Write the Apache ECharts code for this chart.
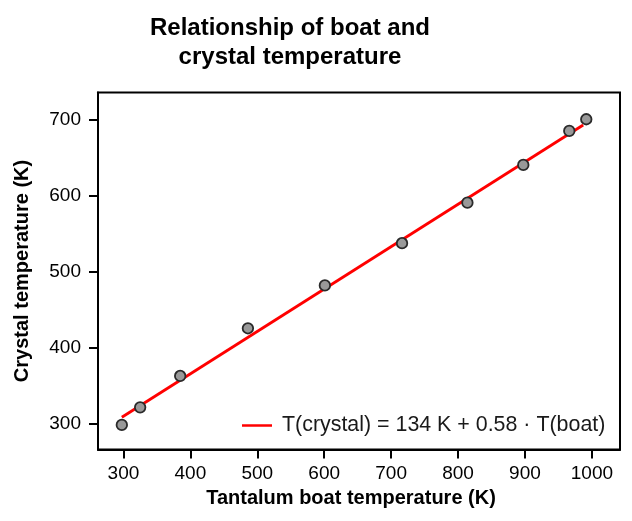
<!DOCTYPE html>
<html>
<head>
<meta charset="utf-8">
<script src="https://cdn.jsdelivr.net/npm/echarts@6/dist/echarts.min.js"></script>
<style>html,body{margin:0;padding:0;background:#fff}#c{width:632px;height:521px}</style>
</head>
<body>
<div id="c"></div>
<script>
const boatTemp = [297.6, 325, 384.8, 486, 601, 716.3, 814, 897.5, 966.2, 991.6];
const crystalTemp = [297.8, 321, 362.4, 425.3, 481.8, 537.5, 591, 640.8, 685.6, 701];
// Fitted line endpoints as drawn in the reference
const fitBoat = [297.6, 987];
const fitCrystal = [307.9, 693.5];
const xTicks = [300, 400, 500, 600, 700, 800, 900, 1000];
const yTicks = [300, 400, 500, 600, 700];
const fitLabel = 'T(crystal) = 134 K + 0.58 \u00b7 T(boat)';

const FONT = '"Liberation Sans", Arial, sans-serif';
const chart = echarts.init(document.getElementById('c'), null, {renderer: 'canvas'});
chart.setOption({
  animation: false,
  backgroundColor: '#fff',
  title: {
    text: 'Relationship of boat and\ncrystal temperature',
    left: 285, top: 9, textAlign: 'center',
    textStyle: {fontFamily: FONT, fontSize: 24, fontWeight: 'bold', color: '#000', lineHeight: 29}
  },
  grid: {left: 98, right: 12, top: 92.5, bottom: 71.5, show: true, borderColor: '#000', borderWidth: 2, containLabel: false},
  legend: {
    data: [{name: fitLabel, icon: 'rect'}], left: 237, top: 410, itemWidth: 30, itemHeight: 2.5,
    itemStyle: {color: '#ff0000'},
    textStyle: {fontFamily: FONT, fontSize: 21.4, color: '#1a1a1a', padding: [0, 0, 0, 5]}
  },
  xAxis: {
    type: 'value', min: 262, max: 1042,
    name: 'Tantalum boat temperature (K)', nameLocation: 'middle', nameGap: 37,
    nameTextStyle: {fontFamily: FONT, fontSize: 20, fontWeight: 'bold', color: '#000', padding: [0, 16, 0, 0]},
    axisLine: {show: true, lineStyle: {color: '#000', width: 2}},
    axisTick: {show: true, length: 9, lineStyle: {color: '#000', width: 2}, customValues: xTicks},
    axisLabel: {fontFamily: FONT, fontSize: 19, color: '#000', margin: 15, customValues: xTicks,
      formatter: v => String(Math.round(v))},
    splitLine: {show: false}
  },
  yAxis: {
    type: 'value', min: 265.4, max: 736.3,
    name: 'Crystal temperature (K)', nameLocation: 'middle', nameGap: 66, nameRotate: 90,
    nameTextStyle: {fontFamily: FONT, fontSize: 20, fontWeight: 'bold', color: '#000'},
    axisLine: {show: true, lineStyle: {color: '#000', width: 2}},
    axisTick: {show: true, length: 9, lineStyle: {color: '#000', width: 2}, customValues: yTicks},
    axisLabel: {fontFamily: FONT, fontSize: 19, color: '#000', margin: 17, customValues: yTicks,
      formatter: v => String(Math.round(v))},
    splitLine: {show: false}
  },
  series: [
    {
      name: fitLabel, type: 'line', symbol: 'none',
      data: fitBoat.map((x, i) => [x, fitCrystal[i]]),
      lineStyle: {color: '#ff0000', width: 2.8}, itemStyle: {color: '#ff0000'}, z: 2
    },
    {
      name: 'data', type: 'scatter', symbol: 'circle', symbolSize: 10.5,
      data: boatTemp.map((x, i) => [x, crystalTemp[i]]),
      itemStyle: {color: '#999999', borderColor: '#2a2a2a', borderWidth: 1.8, opacity: 1}, z: 3
    }
  ]
});
</script>
</body>
</html>
